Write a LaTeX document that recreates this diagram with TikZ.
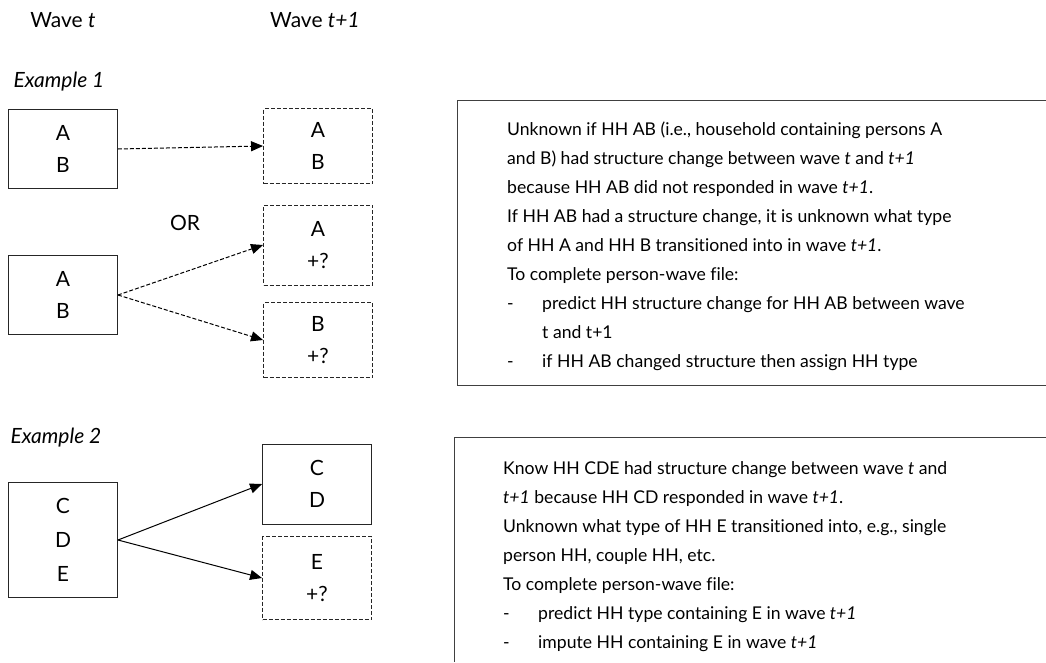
\documentclass[tikz,border=0pt]{standalone}
\usepackage{fontspec}
\setmainfont{Lato}[Ligatures=NoCommon]
\usetikzlibrary{arrows.meta,positioning}
\tikzset{
  hhbox/.style={draw=black!85,line width=0.9pt,minimum width=109pt,minimum height=79pt,
                inner sep=0pt,align=center,font=\fontsize{21}{32}\selectfont},
  hhguess/.style={hhbox,dash pattern=on 4pt off 2pt},
  link/.style={-{Triangle[length=12pt,width=10pt]},line width=1pt},
  guess/.style={link,dash pattern=on 4pt off 2pt},
  head/.style={font=\fontsize{21}{24}\selectfont},
  notebox/.style={draw=black!75,line width=1pt},
  note/.style={anchor=north west,align=left,inner sep=0pt,font=\fontsize{17.6}{29}\selectfont},
}
\newcommand{\dashitem}{\makebox[35pt][l]{-}}

\begin{document}
\begin{tikzpicture}[x=1pt,y=-1pt]
  \path[use as bounding box] (0,0) rectangle (1046,662);

  % column heads
  \node[head] (wavet) at (63,20) {Wave \textit{t}};
  \node[head] (wavenext) at (315,20) {Wave \textit{t+1}};

  % example 1
  \node[head,anchor=west] (ex1) at (10,82) {\textit{Example 1}};
  \node[hhbox] (ab) at (63,149) {A\\B};
  \node[hhguess,minimum height=75pt] (abnext) at (318,146) {A\\B};
  \draw[guess] (ab.east) -- (abnext.west);

  \node[head] (or) at (185,223) {OR};
  \node[hhbox] (absplit) at (63,295) {A\\B};
  \node[hhguess,minimum height=80pt] (anext) at (318,245) {A\\+?};
  \node[hhguess,minimum height=75pt] (bnext) at (318,340) {B\\+?};
  \draw[guess] (absplit.east) -- (anext.west);
  \draw[guess] (absplit.east) -- (bnext.west);

  \draw[notebox] (1046,100) -- (457,100) -- (457,385) -- (1046,385);
  \node[note] (note1) at (507,122)
    {Unknown if HH AB (i.e., household containing persons A\\
     and B) had structure change between wave \textit{t} and \textit{t+1}\\
     because HH AB did not responded in wave \textit{t+1}.\\
     If HH AB had a structure change, it is unknown what type\\
     of HH A and HH B transitioned into in wave \textit{t+1}.\\
     To complete person-wave file:\\
     \dashitem predict HH structure change for HH AB between wave\\
     \hspace*{35pt}t and t+1\\
     \dashitem if HH AB changed structure then assign HH type};

  % example 2
  \node[head,anchor=west] (ex2) at (7,438) {\textit{Example 2}};
  \node[hhbox,minimum height=115pt,font=\fontsize{21}{34}\selectfont] (cde) at (63,540) {C\\D\\E};
  \node[hhbox,minimum height=80pt] (cdnext) at (317,484) {C\\D};
  \node[hhguess,minimum height=83pt] (enext) at (317,578) {E\\+?};
  \draw[link] (cde.east) -- (cdnext.west);
  \draw[link] (cde.east) -- (enext.west);

  \draw[notebox] (1046,437) -- (454,437) -- (454,662);
  \node[note] (note2) at (503,461)
    {Know HH CDE had structure change between wave \textit{t} and\\
     \textit{t+1} because HH CD responded in wave \textit{t+1}.\\
     Unknown what type of HH E transitioned into, e.g., single\\
     person HH, couple HH, etc.\\
     To complete person-wave file:\\
     \dashitem predict HH type containing E in wave \textit{t+1}\\
     \dashitem impute HH containing E in wave \textit{t+1}};
\end{tikzpicture}
\end{document}
